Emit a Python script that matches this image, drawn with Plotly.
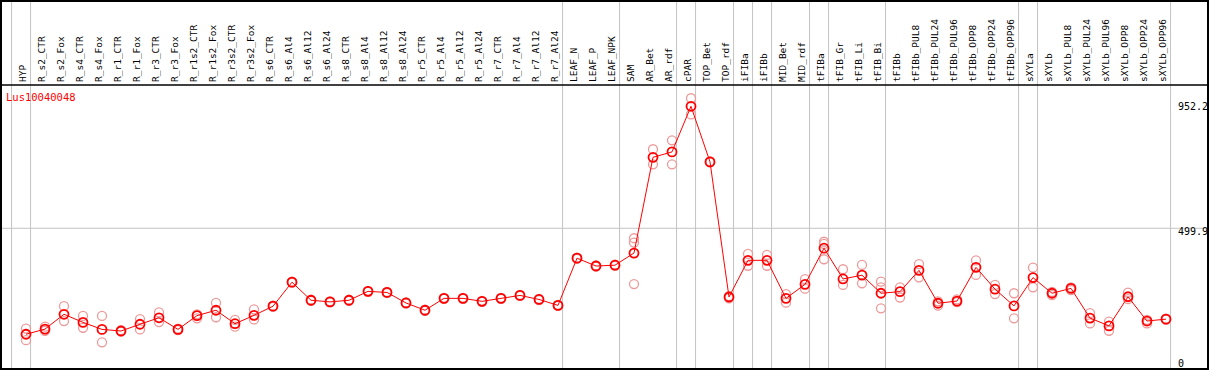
import plotly.graph_objects as go

categories = ["HYP", "R_s2_CTR", "R_s2_Fox", "R_s4_CTR", "R_s4_Fox", "R_r1_CTR", "R_r1_Fox",
              "R_r3_CTR", "R_r3_Fox", "R_r1s2_CTR", "R_r1s2_Fox", "R_r3s2_CTR", "R_r3s2_Fox",
              "R_s6_CTR", "R_s6_Al4", "R_s6_Al12", "R_s6_Al24", "R_s8_CTR", "R_s8_Al4",
              "R_s8_Al12", "R_s8_Al24", "R_r5_CTR", "R_r5_Al4", "R_r5_Al12", "R_r5_Al24",
              "R_r7_CTR", "R_r7_Al4", "R_r7_Al12", "R_r7_Al24", "LEAF_N", "LEAF_P", "LEAF_NPK",
              "SAM", "AR_Bet", "AR_rdf", "cPAR", "TOP_Bet", "TOP_rdf", "iFIBa", "iFIBb",
              "MID_Bet", "MID_rdf", "tFIBa", "tFIB_Gr", "tFIB_Li", "tFIB_Bi", "tFIBb",
              "tFIBb_PUL8", "tFIBb_PUL24", "tFIBb_PUL96", "tFIBb_OPP8", "tFIBb_OPP24",
              "tFIBb_OPP96", "sXYLa", "sXYLb", "sXYLb_PUL8", "sXYLb_PUL24", "sXYLb_PUL96",
              "sXYLb_OPP8", "sXYLb_OPP24", "sXYLb_OPP96"]

mean_values = [107, 126, 181, 151, 125, 119, 144, 168, 125, 176, 196, 146, 177, 211, 300,
               233, 227, 233, 266, 262, 223, 196, 240, 240, 229, 240, 251, 236, 214,
               389, 360, 363, 408, 763, 783, 952.2, 746, 245, 381, 381, 240, 292, 426,
               312, 326, 259, 265, 344, 222, 230, 355, 274, 212, 317, 259, 277, 167, 138,
               246, 156, 163]

rep1 = [128, 135, 211, 175, 175, 122, 163, 188, 128, 181, 223, 160, 199, 213, 302,
        235, 229, 235, 268, 264, 225, 198, 242, 242, 231, 242, 253, 238, 216,
        391, 362, 365, 463, 793, 826, 982, 748, 248, 405, 401, 256, 311, 450,
        348, 364, 302, 281, 367, 229, 236, 381, 290, 259, 354, 264, 281, 185, 154,
        261, 160, 165]

rep2 = [85, 120, 156, 131, 77, 117, 125, 152, 122, 166, 170, 135, 162, 209, 298,
        231, 225, 231, 264, 260, 221, 194, 238, 238, 227, 238, 249, 234, 212,
        387, 358, 361, 293, 737, 737, 922, 744, 240, 361, 361, 224, 276, 385,
        290, 296, 203, 243, 318, 213, 226, 327, 256, 166, 281, 252, 271, 147, 120,
        237, 147, 161]

rep3 = [108, None, None, None, None, None, None, None, None, None, None, None, None, None, None,
        None, None, None, None, None, None, None, None, None, None, None, None, None, None,
        None, None, None, 447, None, None, None, None, None, None, None, None, None, 442,
        None, None, 281, None, None, None, None, None, None, None, None, None, None, None, None,
        None, None, None]

group_ends = [-1, 0, 28, 31, 34, 35, 37, 38, 39, 41, 42, 45, 52, 53, 60]

gene_name = "Lus10040048"
value_labels = [952.2, 499.9, 0]
value_label_text = ["952.2", "499.9", "0"]

W, H = 1209, 370
TOP = 85
PH = H - TOP
STEP = 19.0
X0PX = 26.0
PXU = 0.2697
ZERO_PY = 363.1

idx = list(range(len(categories)))
xr = [-X0PX / STEP, -X0PX / STEP + W / STEP]
shift = 3.0 / STEP
yr = [(ZERO_PY - H) / PXU, (ZERO_PY - TOP) / PXU]

mono = "DejaVu Sans Mono"
fig = go.Figure()

rep_color = "#ec9a9a"
for reps in (rep1, rep2, rep3):
    xs = [i for i, v in zip(idx, reps) if v is not None]
    ys = [v for v in reps if v is not None]
    fig.add_trace(go.Scatter(x=xs, y=ys, mode="markers", showlegend=False,
                             marker=dict(symbol="circle-open", size=9, color=rep_color,
                                         line=dict(width=1.3, color=rep_color)),
                             hoverinfo="skip"))

fig.add_trace(go.Scatter(x=idx, y=mean_values, mode="lines+markers", showlegend=False,
                         line=dict(color="red", width=1),
                         marker=dict(symbol="circle-open", size=9, color="red",
                                     line=dict(width=1.8, color="red"))))

# invisible trace on label axis
fig.add_trace(go.Scatter(x=[0], y=[None], xaxis="x2", showlegend=False, hoverinfo="skip"))

shapes = []
ytop_paper = (H - 1) / PH
for b in group_ends:
    shapes.append(dict(type="line", xref="x", yref="paper", x0=b + 0.24, x1=b + 0.24,
                       y0=0, y1=ytop_paper, line=dict(color="#c4c4c4", width=1), layer="below"))
shapes.append(dict(type="line", xref="paper", yref="y", x0=0, x1=1, y0=499.9, y1=499.9,
                   line=dict(color="#c4c4c4", width=1), layer="below"))
shapes.append(dict(type="line", xref="paper", yref="paper", x0=0, x1=1, y0=1, y1=1,
                   line=dict(color="black", width=1.5)))
shapes.append(dict(type="rect", xref="paper", yref="paper",
                   x0=1 / W, x1=1 - 1 / W, y0=1 / PH, y1=ytop_paper,
                   line=dict(color="black", width=2)))

annotations = [dict(text=gene_name, xref="paper", yref="paper", x=4 / W, y=(H - 97) / PH,
                    xanchor="left", yanchor="middle", showarrow=False,
                    font=dict(family=mono, size=10.5, color="red"))]
for v, t in zip(value_labels, value_label_text):
    annotations.append(dict(text=t, xref="paper", yref="y", x=1176 / W, y=v,
                            xanchor="left", yanchor="middle", showarrow=False,
                            yshift=-3 if t == "499.9" else 0,
                            font=dict(family=mono, size=10, color="black")))

fig.update_layout(
    width=W, height=H,
    margin=dict(l=0, r=0, t=TOP, b=0, pad=0, autoexpand=False),
    plot_bgcolor="white", paper_bgcolor="white",
    xaxis=dict(range=xr, showgrid=False, zeroline=False, showticklabels=False,
               showline=False, ticks="", automargin=False),
    xaxis2=dict(range=[xr[0] + shift, xr[1] + shift], overlaying="x", side="top",
                anchor="y", tickmode="array", tickvals=idx, ticktext=categories,
                tickangle=-90, ticks="", showgrid=False, zeroline=False, showline=False,
                automargin=False,
                tickfont=dict(family=mono, size=9.5, color="black"), ticklabelstandoff=2),
    yaxis=dict(range=yr, showgrid=False, zeroline=False, showticklabels=False,
               showline=False, ticks="", automargin=False),
    shapes=shapes, annotations=annotations,
)

fig.write_html("out.html", config={"displayModeBar": False},
               post_script="document.body.style.margin='0';document.body.style.overflow='hidden';")
